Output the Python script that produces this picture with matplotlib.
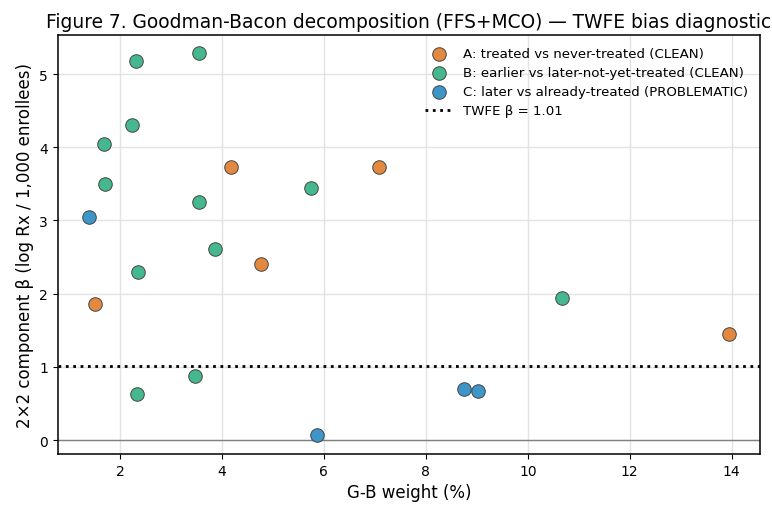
import matplotlib
matplotlib.use("Agg")
import matplotlib.pyplot as plt

# G-B weights (%) and 2x2 betas, by comparison type
a_w = [1.51, 4.18, 4.76, 7.08, 13.94]
a_b = [1.86, 3.73, 2.40, 3.73, 1.45]

b_w = [2.31, 3.55, 2.24, 1.69, 1.71, 3.55, 5.75, 3.86, 2.35, 10.67, 3.47, 2.33]
b_b = [5.18, 5.29, 4.30, 4.04, 3.50, 3.25, 3.44, 2.61, 2.30, 1.94, 0.87, 0.63]

c_w = [1.39, 5.86, 8.75, 9.02]
c_b = [3.05, 0.07, 0.70, 0.67]

twfe = 1.01

fig, ax = plt.subplots(figsize=(7.72, 5.10), dpi=100)
fig.subplots_adjust(left=0.075, right=0.984, top=0.929, bottom=0.108)

ax.scatter(a_w, a_b, s=95, color="#E3883F", edgecolor="#444444", linewidth=0.7,
           label="A: treated vs never-treated (CLEAN)", zorder=3)
ax.scatter(b_w, b_b, s=95, color="#45B88F", edgecolor="#444444", linewidth=0.7,
           label="B: earlier vs later-not-yet-treated (CLEAN)", zorder=3)
ax.scatter(c_w, c_b, s=95, color="#3E95C9", edgecolor="#444444", linewidth=0.7,
           label="C: later vs already-treated (PROBLEMATIC)", zorder=3)

ax.axhline(twfe, color="black", linestyle=":", linewidth=2, label=f"TWFE β = {twfe:.2f}")
ax.axhline(0, color="gray", linewidth=1)

ax.set_xlim(0.78, 14.55)
ax.set_ylim(-0.19, 5.53)
ax.grid(True, color="#dddddd", linewidth=1, alpha=0.8)
ax.set_axisbelow(True)
for s in ax.spines.values():
    s.set_linewidth(1.1)

ax.set_xlabel("G-B weight (%)", fontsize=12)
ax.set_ylabel("2×2 component β (log Rx / 1,000 enrollees)", fontsize=12)
ax.set_title("Figure 7. Goodman-Bacon decomposition (FFS+MCO) — TWFE bias diagnostic", fontsize=13.4)
ax.legend(loc="upper right", frameon=False, fontsize=9.6, labelspacing=0.45)

fig.savefig("out.png", dpi=100)
